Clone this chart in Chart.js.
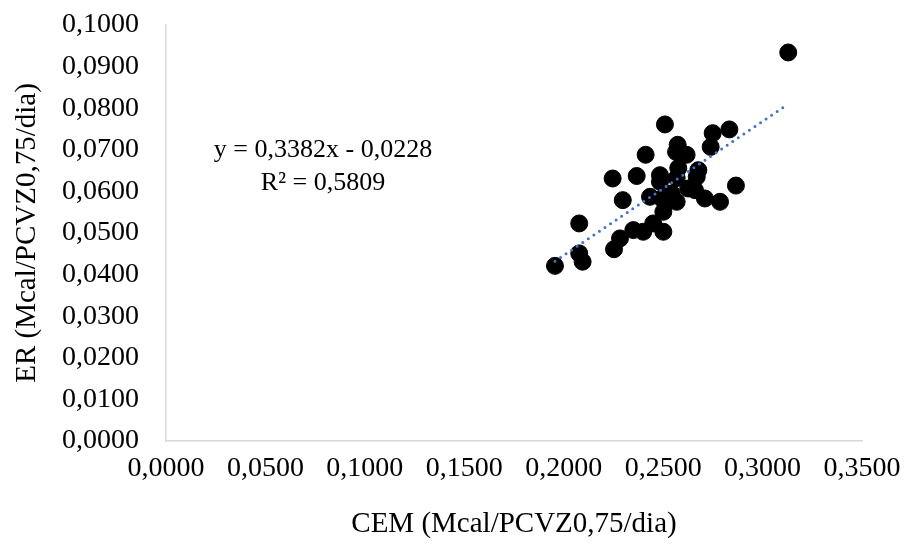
<!DOCTYPE html>
<html><head><meta charset="utf-8">
<script src="https://cdn.jsdelivr.net/npm/chart.js@4/dist/chart.umd.min.js"></script>
<style>html,body{margin:0;padding:0;background:#fff}#wrap{width:921px;height:548px}</style>
</head><body><div id="wrap"><canvas id="c" width="921" height="548"></canvas></div>
<script>
const cemValues = [0.2509,0.2749,0.2833,0.2573,0.2565,0.2618,0.2739,0.2412,0.2246,0.2367,0.2484,0.2484,0.2576,0.2568,0.2677,0.2669,0.2626,0.2660,0.2710,0.2786,0.2866,0.2297,0.2434,0.2493,0.2543,0.2543,0.2568,0.2501,0.2450,0.2350,0.2400,0.2501,0.2078,0.2283,0.2253,0.2078,0.2095,0.1956,0.3129];
const erValues  = [0.0761,0.0740,0.0749,0.0712,0.0695,0.0688,0.0707,0.0688,0.0631,0.0637,0.0639,0.0623,0.0656,0.0632,0.0651,0.0635,0.0607,0.0603,0.0583,0.0575,0.0614,0.0579,0.0587,0.0583,0.0595,0.0579,0.0575,0.0551,0.0523,0.0507,0.0503,0.0503,0.0523,0.0487,0.0461,0.0451,0.0431,0.0421,0.0934];
const trendX = [0.1956, 0.3129];
const trendY = [0.0432, 0.0810];
const equationText = "y = 0,3382x - 0,0228";
const r2Text = "R² = 0,5809";
const xTitle = "CEM (Mcal/PCVZ0,75/dia)";
const yTitle = "ER (Mcal/PCVZ0,75/dia)";

const fmt = v => v.toFixed(4).replace('.', ',');
const FONT = "'Liberation Serif','Times New Roman',serif";

const eqPlugin = {
  id: 'eq',
  afterDatasetsDraw(chart) {
    const ctx = chart.ctx;
    ctx.save();
    ctx.fillStyle = '#000';
    ctx.font = "26px " + FONT;
    ctx.textAlign = 'center';
    ctx.textBaseline = 'middle';
    ctx.fillText(equationText, 323, 150);
    ctx.fillText(r2Text, 323, 183);
    ctx.restore();
  }
};

new Chart(document.getElementById('c'), {
  type: 'scatter',
  data: {
    datasets: [
      {
        label: 'ER',
        data: cemValues.map((x, i) => ({x, y: erValues[i]})),
        backgroundColor: '#000',
        borderColor: '#000',
        pointRadius: 8.5,
        pointHoverRadius: 8.5,
        order: 2
      },
      {
        label: 'Trend',
        type: 'line',
        data: trendX.map((x, i) => ({x, y: trendY[i]})),
        borderColor: '#4472C4',
        borderWidth: 3,
        borderDash: [0, 6.7],
        borderCapStyle: 'round',
        pointRadius: 0,
        fill: false,
        order: 1
      }
    ]
  },
  options: {
    responsive: false,
    animation: false,
    events: [],
    layout: { padding: { left: 10, right: 59, top: 25, bottom: 2 } },
    plugins: { legend: { display: false }, tooltip: { enabled: false } },
    scales: {
      x: {
        type: 'linear', min: 0, max: 0.35,
        afterFit: s => { s.height = 548 - 441 - 2; s.paddingLeft = 0; s.paddingRight = 0; },
        ticks: { stepSize: 0.05, callback: v => fmt(v), color: '#000', font: { family: FONT, size: 28 }, padding: 11, maxRotation: 0, autoSkip: false },
        grid: { color: 'rgba(0,0,0,0)', drawTicks: false },
        border: { display: true, color: '#d9d9d9', width: 1.5 },
        title: { display: true, text: xTitle, color: '#000', font: { family: FONT, size: 29 }, padding: { top: 13 } }
      },
      y: {
        type: 'linear', min: 0, max: 0.1,
        afterFit: s => { s.width = 166 - 10; s.paddingTop = 0; s.paddingBottom = 0; },
        ticks: { stepSize: 0.01, callback: v => fmt(v), color: '#000', font: { family: FONT, size: 28 }, padding: 27, autoSkip: false },
        grid: { color: 'rgba(0,0,0,0)', drawTicks: false },
        border: { display: true, color: '#d9d9d9', width: 1.5 },
        title: { display: true, text: yTitle, color: '#000', font: { family: FONT, size: 29 }, padding: 0 }
      }
    }
  },
  plugins: [eqPlugin]
});
</script>
</body></html>
